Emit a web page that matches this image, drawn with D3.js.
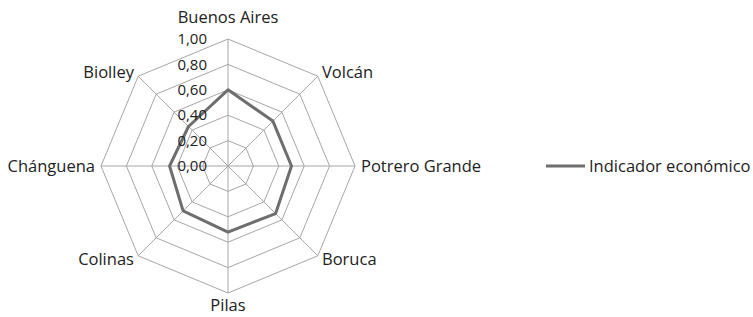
<!DOCTYPE html>
<html><head><meta charset="utf-8">
<script src="https://cdn.jsdelivr.net/npm/d3@7"></script>
<style>body{margin:0;background:#fff}svg{display:block}text{font-family:"Open Sans",Lato,sans-serif;fill:#222}</style>
</head><body><svg id="c" width="753" height="317"></svg>
<script>
const categories = ["Buenos Aires","Volcán","Potrero Grande","Boruca","Pilas","Colinas","Chánguena","Biolley"];
const seriesName = "Indicador económico";
const values = [0.60,0.50,0.50,0.53,0.52,0.50,0.46,0.44];
const ticks = [0,0.2,0.4,0.6,0.8,1.0];
const tickLabels = ["0,00","0,20","0,40","0,60","0,80","1,00"];

const svg = d3.select("#c");
const cx = 228, cy = 166, R = 127;
const r = d3.scaleLinear().domain([0,1]).range([0,R]);
const ang = d3.scalePoint().domain(categories.map((d,i)=>i)).range([0, 2*Math.PI*(categories.length-1)/categories.length]);
const pt = (i,v)=>[cx + r(v)*Math.sin(ang(i)), cy - r(v)*Math.cos(ang(i))];
const g = svg.append("g");
const line = d3.line().curve(d3.curveLinearClosed);

ticks.forEach(t=>{ if(t>0) g.append("path").attr("d", line(categories.map((c,i)=>pt(i,t)))).attr("fill","none").attr("stroke","#a6a6a6").attr("stroke-width",1); });
categories.forEach((c,i)=>{ const p=pt(i,1); g.append("line").attr("x1",cx).attr("y1",cy).attr("x2",p[0]).attr("y2",p[1]).attr("stroke","#a6a6a6").attr("stroke-width",1); });

g.append("path").attr("d", line(values.map((v,i)=>pt(i,v)))).attr("fill","none").attr("stroke","#6e6e6e").attr("stroke-width",3).attr("stroke-linejoin","round");

ticks.forEach((t,k)=>{ g.append("text").attr("x",cx-21).attr("y",cy - r(t)).attr("dy","0.35em").attr("text-anchor","end").attr("font-size",15).text(tickLabels[k]); });

categories.forEach((c,i)=>{
  const p = pt(i,1);
  const s = Math.sin(ang(i)), co = Math.cos(ang(i));
  let anchor = Math.abs(s)<0.01 ? "middle" : (s>0 ? "start" : "end");
  let x = p[0] + s*6, y = p[1] - co*(co>0 ? 22 : 12);
  if (Math.abs(s)>0.01 && Math.abs(co)>0.01) y = p[1] - co*5;
  if (Math.abs(co)<0.01) y = p[1];
  g.append("text").attr("x",x).attr("y",y).attr("dy","0.35em").attr("text-anchor",anchor).attr("font-size",16.5).text(c);
});

const lg = svg.append("g");
lg.append("line").attr("x1",546).attr("x2",585).attr("y1",166).attr("y2",166).attr("stroke","#6e6e6e").attr("stroke-width",3);
lg.append("text").attr("x",589).attr("y",166).attr("dy","0.35em").attr("font-size",16.5).text(seriesName);
</script></body></html>
